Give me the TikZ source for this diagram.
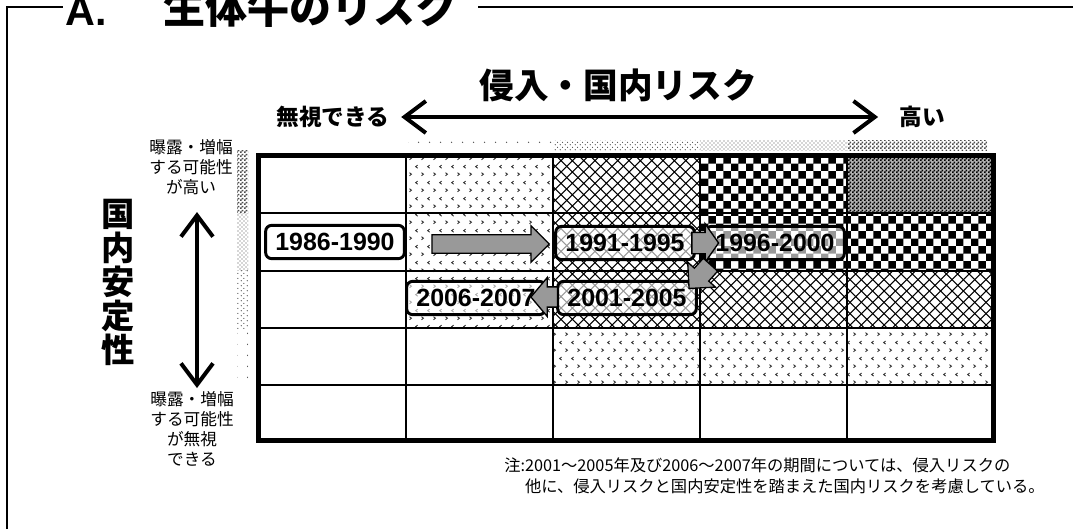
\documentclass[tikz,border=0pt]{standalone}
\usepackage{fontspec}
\setmainfont{Liberation Sans}
\newfontfamily\jp{Noto Sans CJK JP}
\usetikzlibrary{arrows.meta,shapes.arrows,patterns}

% Patterns
\pgfdeclarepatternformonly{chevrons}{\pgfpointorigin}{\pgfpoint{9pt}{12pt}}{\pgfpoint{9pt}{12pt}}{%
  \pgfsetlinewidth{0.7pt}
  \pgfpathmoveto{\pgfpoint{1.2pt}{1.8pt}}\pgfpathlineto{\pgfpoint{2.8pt}{3pt}}\pgfpathlineto{\pgfpoint{1.2pt}{4.2pt}}
  \pgfpathmoveto{\pgfpoint{7.8pt}{7.8pt}}\pgfpathlineto{\pgfpoint{6.2pt}{9pt}}\pgfpathlineto{\pgfpoint{7.8pt}{10.2pt}}
  \pgfusepath{stroke}}
\pgfdeclarepatternformonly{diamonds}{\pgfpoint{-1pt}{-1pt}}{\pgfpoint{9.5pt}{9.5pt}}{\pgfpoint{8.5pt}{8.5pt}}{%
  \pgfsetlinewidth{0.8pt}
  \pgfpathmoveto{\pgfpoint{0pt}{0pt}}\pgfpathlineto{\pgfpoint{8.5pt}{8.5pt}}
  \pgfpathmoveto{\pgfpoint{0pt}{8.5pt}}\pgfpathlineto{\pgfpoint{8.5pt}{0pt}}
  \pgfusepath{stroke}}
\pgfdeclarepatternformonly{checks}{\pgfpointorigin}{\pgfpoint{11.2pt}{11.2pt}}{\pgfpoint{11.2pt}{11.2pt}}{%
  \pgfpathrectangle{\pgfpointorigin}{\pgfpoint{5.6pt}{5.6pt}}
  \pgfpathrectangle{\pgfpoint{5.6pt}{5.6pt}}{\pgfpoint{5.6pt}{5.6pt}}
  \pgfusepath{fill}}
\pgfdeclarepatternformonly{finechecks}{\pgfpointorigin}{\pgfpoint{3pt}{3pt}}{\pgfpoint{3pt}{3pt}}{%
  \pgfpathrectangle{\pgfpointorigin}{\pgfpoint{1.5pt}{1.5pt}}
  \pgfpathrectangle{\pgfpoint{1.5pt}{1.5pt}}{\pgfpoint{1.5pt}{1.5pt}}
  \pgfusepath{fill}}
\pgfdeclarepatternformonly{sparsedots}{\pgfpointorigin}{\pgfpoint{8pt}{8pt}}{\pgfpoint{8pt}{8pt}}{%
  \pgfpathcircle{\pgfpoint{2pt}{2pt}}{0.55pt}
  \pgfusepath{fill}}
\pgfdeclarepatternformonly{meddots}{\pgfpointorigin}{\pgfpoint{4pt}{4pt}}{\pgfpoint{4pt}{4pt}}{%
  \pgfpathcircle{\pgfpoint{1pt}{1pt}}{0.5pt}
  \pgfpathcircle{\pgfpoint{3pt}{3pt}}{0.5pt}
  \pgfusepath{fill}}

\tikzstyle{frame}=[line width=1.2pt]
\tikzstyle{gridline}=[line width=2pt]
\tikzstyle{gridframe}=[line width=3.75pt]
\tikzstyle{axis}=[line width=3pt]
\tikzstyle{axis label}=[inner sep=0pt, font=\jp\bfseries\fontsize{17}{17}\selectfont]
\tikzstyle{side label}=[inner sep=0pt, align=center, font=\jp\fontsize{12.5}{15}\selectfont]
\tikzstyle{period}=[draw, line width=2.2pt, rounded corners=4.5pt, fill=white, fill opacity=.6,
  text opacity=1, minimum width=104pt, minimum height=25pt, inner sep=0pt,
  font=\bfseries\fontsize{18.7}{20}\selectfont]
\tikzstyle{shift arrow}=[single arrow, draw, line width=1pt, fill=black!40, inner xsep=0pt]

\begin{document}
\begin{tikzpicture}[x=0.75pt,y=-0.75pt,>={Straight Barb[length=16pt,width=24pt]}]
    \useasboundingbox (0,0) rectangle (1073,529);

    % Title and frame
    \draw (65,25) node[anchor=base west, inner sep=0pt, font=\bfseries\fontsize{31}{31}\selectfont] (titleA) {A.};
    \draw (163,23) node[anchor=base west, inner sep=0pt, font=\jp\bfseries\fontsize{31.5}{31}\selectfont] (title) {生体牛のリスク};
    \draw[frame] (7,529) -- (7,7) -- (63,7);
    \draw[frame] (478,7) -- (1073,7);

    % Horizontal axis
    \draw (618,85) node[inner sep=0pt, font=\jp\bfseries\fontsize{26}{26}\selectfont] (risk) {侵入・国内リスク};
    \draw (333,117) node[axis label] (negl) {無視できる};
    \draw (922,117) node[axis label] (high) {高い};
    \draw[axis,<->,shorten <=8.6pt,shorten >=15.7pt] (negl) -- (high);

    % Vertical axis
    \draw (118,282) node[inner sep=0pt, align=center, font=\jp\bfseries\fontsize{25}{25.5}\selectfont] (stab) {国\\内\\安\\定\\性};
    \draw (191,167) node[side label] (likely) {曝露・増幅\\する可能性\\が高い};
    \draw (192,429) node[side label] (unlikely) {曝露・増幅\\する可能性\\が無視\\できる};
    \coordinate (stabtop) at (197,212);
    \coordinate (stabbot) at (197,388);
    \draw[axis,<->] (stabtop) -- (stabbot);

    % Shading strips
    \fill[pattern=sparsedots, pattern color=black!70] (408,140) rectangle (553,150);
    \fill[pattern=meddots, pattern color=black!70] (553,140) rectangle (700,150);
    \fill[pattern=crosshatch dots, pattern color=black!70] (700,140) rectangle (847,150);
    \fill[pattern=finechecks, pattern color=black!70] (847,140) rectangle (987,150);
    \fill[pattern=finechecks, pattern color=black!70] (237,150) rectangle (248,213);
    \fill[pattern=crosshatch dots, pattern color=black!70] (237,213) rectangle (248,270);
    \fill[pattern=meddots, pattern color=black!70] (237,270) rectangle (248,328);
    \fill[pattern=sparsedots, pattern color=black!70] (237,328) rectangle (248,385);

    % Cells
    \fill[pattern=chevrons, pattern color=black!80] (406,155) rectangle (553,328);
    \fill[pattern=chevrons, pattern color=black!80] (553,328) rectangle (993,385);
    \fill[pattern=diamonds] (553,155) rectangle (700,328);
    \fill[pattern=diamonds] (700,271) rectangle (993,328);
    \fill[pattern=checks] (700,155) rectangle (847,271);
    \fill[pattern=checks] (847,213) rectangle (993,271);
    \fill[black!30] (847,155) rectangle (993,213);
    \fill[pattern=finechecks] (847,155) rectangle (993,213);

    % Grid
    \foreach \x in {406,553,700,847}
        \draw[gridline] (\x,155) -- (\x,440);
    \foreach \y in {213,271,328,385}
        \draw[gridline] (258,\y) -- (993,\y);
    \draw[gridframe] (258,155) rectangle (993,440);

    % Periods
    \draw (335,242) node[period] (p86) {1986-1990};
    \draw (625,243) node[period] (p91) {1991-1995};
    \draw (775,243) node[period] (p96) {1996-2000};
    \draw (627,298) node[period] (p01) {2001-2005};
    \draw (476,298) node[period] (p06) {2006-2007};

    % Shifts
    \draw (486,244) node[shift arrow, inner ysep=6.4pt, minimum height=88pt, single arrow head extend=6.75pt] (s1) {};
    \draw (701.5,243) node[shift arrow, inner ysep=7.5pt, minimum height=20pt, single arrow head extend=6.4pt, single arrow tip angle=110] (s2) {};
    \draw (703,273) node[shift arrow, rotate=228, inner ysep=6.75pt, minimum height=24pt, single arrow head extend=6.75pt] (s3) {};
    \draw (548.5,297) node[shift arrow, rotate=180, inner ysep=7.1pt, minimum height=20pt, single arrow head extend=7pt, single arrow tip angle=100] (s4) {};

    % Note
    \draw (504,457) node[anchor=north west, inner sep=0pt, font=\jp\fontsize{12.2}{15.75}\selectfont] (note)
        {\begin{tabular}{@{}l@{}l@{}}注: & 2001～2005年及び2006～2007年の期間については、侵入リスクの\\
         & 他に、侵入リスクと国内安定性を踏まえた国内リスクを考慮している。\end{tabular}};

\end{tikzpicture}
\end{document}
